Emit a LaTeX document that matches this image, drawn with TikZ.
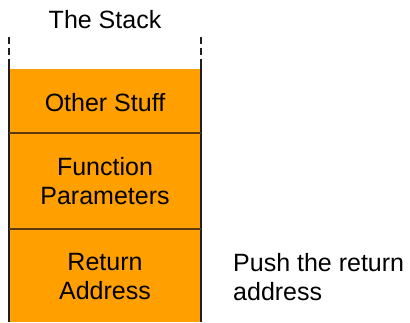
\documentclass[tikz,border=0pt]{standalone}
\usepackage{fontspec}
\setmainfont{Liberation Sans}
\definecolor{stackfill}{RGB}{255,160,0}
\definecolor{divider}{RGB}{90,58,10}
\definecolor{wall}{RGB}{30,30,30}
\begin{document}
\begin{tikzpicture}[x=1pt,y=-1pt,
  label/.style={font=\fontsize{25}{29}\selectfont, align=center, inner sep=0pt},
  wallline/.style={draw=wall, line width=1.6pt},
  divline/.style={draw=divider, line width=1.6pt}]
\useasboundingbox (0,0) rectangle (410,322);
% stack body
\fill[stackfill] (9,69) rectangle (201,322);
% walls: dashed above, solid below
\coordinate (lt) at (9,37);
\coordinate (lm) at (9,62);
\coordinate (lb) at (9,322);
\coordinate (rt) at (201,37);
\coordinate (rm) at (201,62);
\coordinate (rb) at (201,322);
\draw[wallline, dash pattern=on 7pt off 4pt] (lt) -- (lm);
\draw[wallline, dash pattern=on 7pt off 4pt] (rt) -- (rm);
\draw[wallline] (lm) -- (lb);
\draw[wallline] (rm) -- (rb);
% dividers between frames
\coordinate (d1l) at (9,133);
\coordinate (d1r) at (201,133);
\coordinate (d2l) at (9,229);
\coordinate (d2r) at (201,229);
\draw[divline] (d1l) -- (d1r);
\draw[divline] (d2l) -- (d2r);
% labels
\node[label] (title) at (105,20) {The Stack};
\node[label] (other) at (105,103) {Other Stuff};
\node[label] (params) at (105,181) {Function\\Parameters};
\node[label] (ret) at (105,277) {Return\\Address};
\node[label, align=left, anchor=west] (push) at (233,277) {Push the return\\address};
\end{tikzpicture}
\end{document}
